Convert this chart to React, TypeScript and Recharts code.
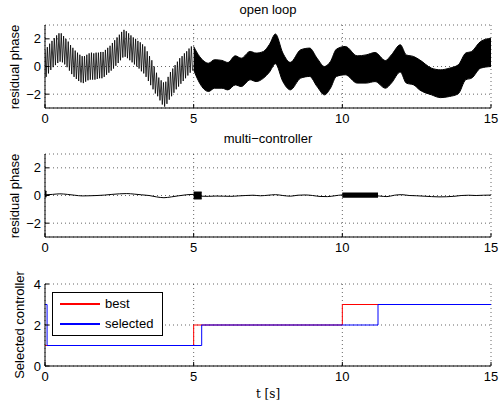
import React from 'react';
import { ComposedChart, Line, Area, XAxis, YAxis, CartesianGrid } from 'recharts';

// open loop, t < 5: one peak and one trough per cycle of the oscillation
const olCycle = 5 / 64;
const olPeaks = [
  1.2, 1.4, 1.65, 1.85, 2.05, 2.25, 2.4, 2.4, 2.2, 2.0,
  1.8, 1.55, 1.35, 1.15, 1.0, 0.85, 0.75, 0.75, 0.85, 0.95,
  1.0, 0.95, 1.0, 1.0, 1.05, 1.05, 1.2, 1.35, 1.5, 1.7,
  1.9, 2.1, 2.3, 2.5, 2.65, 2.55, 2.4, 2.25, 2.1, 2.0,
  1.85, 1.75, 1.6, 1.45, 1.1, 0.75, 0.45, 0.0, -0.45, -0.8,
  -1.0, -1.15, -1.1, -0.75, -0.4, -0.15, 0.1, 0.35, 0.6, 0.75,
  0.95, 1.1, 1.3, 1.45,
];
const olTroughs = [
  -0.75, -0.5, -0.25, -0.05, 0.1, 0.25, 0.35, 0.3, 0.15, -0.05,
  -0.3, -0.55, -0.75, -0.9, -1.05, -1.15, -1.2, -1.1, -1.0, -0.95,
  -0.95, -0.95, -0.9, -0.85, -0.85, -0.75, -0.6, -0.45, -0.3, -0.15,
  0.05, 0.25, 0.45, 0.65, 0.7, 0.6, 0.45, 0.3, 0.15, 0.0,
  -0.15, -0.35, -0.5, -0.75, -1.05, -1.35, -1.65, -1.95, -2.15, -2.45,
  -2.75, -2.9, -2.7, -2.4, -2.15, -1.9, -1.65, -1.45, -1.25, -1.05,
  -0.85, -0.65, -0.45, -0.3,
];

// open loop, t >= 5: too fast to resolve, so only its envelope
const olBandT = [
  5.0, 5.2, 5.5, 5.7, 5.95, 6.15, 6.4, 6.6, 6.9, 7.1,
  7.35, 7.55, 7.75, 8.0, 8.25, 8.6, 8.9, 9.15, 9.4, 9.6,
  9.8, 10.1, 10.5, 10.8, 11.1, 11.45, 11.65, 11.95, 12.15, 12.4,
  12.6, 13.0, 13.3, 13.6, 13.9, 14.15, 14.35, 14.65, 15.0,
];
const olBandHi = [
  1.45, 0.72, 0.24, 0.49, 0.44, 0.29, 0.77, 0.6, 1.09, 0.97,
  1.09, 1.6, 2.35, 0.97, 0.3, 1.21, 1.33, 0.6, 0.0, 0.36,
  1.25, 1.45, 0.77, 0.84, 1.01, 0.43, 0.84, 1.57, 0.84, 0.72,
  0.48, -0.12, -0.24, -0.12, 0.12, 0.97, 1.09, 1.81, 2.05,
];
const olBandLo = [
  -0.24, -1.2, -1.81, -1.57, -1.57, -1.69, -1.33, -1.45, -0.96, -1.09,
  -0.84, -0.4, 0.2, -1.09, -1.69, -0.84, -0.72, -1.45, -2.05, -1.57,
  -0.72, -0.6, -1.2, -1.2, -1.09, -1.57, -1.2, -0.4, -1.2, -1.33,
  -1.69, -2.05, -2.25, -2.17, -1.97, -0.96, -0.84, -0.12, 0.0,
];

// multi-controller residual phase
const mcT = [
  0, 0.25, 0.5, 0.75, 1.0, 1.25, 1.5, 1.75, 2.0, 2.25, 2.5, 2.75, 3.0, 3.25, 3.5, 3.75,
  4.0, 4.25, 4.5, 4.75, 5.0, 5.25, 5.5, 5.75, 6.0, 6.25, 6.5, 6.75, 7.0, 7.25, 7.5, 7.75,
  8.0, 8.25, 8.5, 8.75, 9.0, 9.25, 9.5, 9.75, 10.0, 10.25, 10.5, 10.75, 11.0, 11.25, 11.5,
  11.75, 12.0, 12.25, 12.5, 12.75, 13.0, 13.25, 13.5, 13.75, 14.0, 14.25, 14.5, 14.75, 15.0,
];
const mcV = [
  0.05, 0.08, 0.12, 0.08, 0.02, -0.03, -0.02, 0.0, 0.03, 0.08, 0.12, 0.14, 0.1, 0.05, 0.0, -0.1,
  -0.16, -0.1, -0.02, 0.05, 0.08, -0.05, -0.06, -0.04, -0.05, -0.06, -0.03, 0.0, 0.02, -0.02, 0.02, 0.06,
  0.0, -0.05, 0.02, 0.04, 0.0, -0.07, -0.08, -0.02, 0.04, -0.02, -0.04, -0.02, 0.0, -0.04, -0.08,
  0.02, 0.06, 0.0, -0.02, -0.05, -0.08, -0.1, -0.09, -0.06, 0.0, 0.02, 0.0, 0.02, 0.03,
];
// short fast bursts right after a switch
const burstStart = [0, 5.0, 10.0];
const burstEnd = [0.05, 5.27, 11.2];
const burstHi = [0.3, 0.25, 0.18];
const burstLo = [-0.1, -0.25, -0.12];

// selected controller
const bestT = [0, 5.0, 10.0, 15];
const bestV = [1, 2, 3, 3];
const selT = [0, 0.07, 5.27, 11.2, 15];
const selV = [3, 1, 2, 3, 3];
const seriesNames = ['best', 'selected'];
const seriesColors = ['#ff0000', '#0000ff'];

const xTicks = [0, 5, 10, 15];
const phaseTicks = [-2, 0, 2];
const ctrlTicks = [0, 2, 4];

const olRows = olPeaks.flatMap((p, i) => [
  { t: i * olCycle, v: p },
  { t: (i + 0.5) * olCycle, v: olTroughs[i] },
]);
const bandRows = olBandT.map((t, i) => ({ t, band: [olBandLo[i], olBandHi[i]] }));
const mcRows = mcT.map((t, i) => ({ t, v: mcV[i] }));
const bursts = burstStart.map((s, i) => [
  { t: s, band: [burstLo[i], burstHi[i]] },
  { t: burstEnd[i], band: [burstLo[i], burstHi[i]] },
]);
const bestRows = bestT.map((t, i) => ({ t, v: bestV[i] }));
const selRows = selT.map((t, i) => ({ t, v: selV[i] }));

const font = '"Liberation Sans", Arial, Helvetica, sans-serif';
const tickStyle = { fontSize: 13, fill: '#000', fontFamily: font };
const fmt = (v: number) => (v < 0 ? '\u2212' + Math.abs(v) : String(v));

// MATLAB-like box: inward ticks on all four sides, dotted grid
function frame(yDomain: number[], yTicks: number[], xHeight: number) {
  return [
    <CartesianGrid key="g" stroke="#000" strokeOpacity={0.6} strokeDasharray="1 3" />,
    <XAxis key="xb" type="number" dataKey="t" domain={[0, 15]} ticks={xTicks} interval={0}
      allowDataOverflow height={xHeight} stroke="#000" tickSize={-4} tickMargin={10} tick={tickStyle} />,
    <XAxis key="xt" xAxisId="top" orientation="top" type="number" dataKey="t" domain={[0, 15]}
      ticks={xTicks} interval={0} allowDataOverflow height={0} stroke="#000" tickSize={-4} tick={false} />,
    <YAxis key="yl" type="number" domain={yDomain} ticks={yTicks} interval={0} allowDataOverflow
      width={45} stroke="#000" tickSize={-4} tickMargin={8} tick={tickStyle} tickFormatter={fmt} />,
    <YAxis key="yr" yAxisId="right" orientation="right" type="number" domain={yDomain} ticks={yTicks}
      interval={0} allowDataOverflow width={0} stroke="#000" tickSize={-4} tick={false} />,
  ];
}

const abs = (left: number, top: number): React.CSSProperties => ({ position: 'absolute', left, top });

function YLabel({ text, cx, cy }: { text: string; cx: number; cy: number }) {
  return (
    <div style={{
      position: 'absolute', left: cx - 100, top: cy - 8, width: 200, height: 16, lineHeight: '16px',
      textAlign: 'center', transform: 'rotate(-90deg)', fontFamily: font, fontSize: 13, color: '#000',
    }}>{text}</div>
  );
}

function Title({ text, top }: { text: string; top: number }) {
  return (
    <div style={{
      position: 'absolute', left: 168, top, width: 200, lineHeight: '15px', textAlign: 'center',
      fontFamily: font, fontSize: 13, color: '#000',
    }}>{text}</div>
  );
}

function LegendBox() {
  return (
    <div style={{
      position: 'absolute', left: 52, top: 292, width: 109, height: 42, border: '1.5px solid #000',
      background: '#fff', boxSizing: 'content-box',
    }}>
      {seriesNames.map((name, i) => (
        <div key={name}>
          <div style={{ position: 'absolute', left: 7, top: 10 + i * 20, width: 40, height: 2, background: seriesColors[i] }} />
          <div style={{
            position: 'absolute', left: 52, top: 3 + i * 20, lineHeight: '15px', fontFamily: font,
            fontSize: 13, color: '#000', whiteSpace: 'nowrap',
          }}>{name}</div>
        </div>
      ))}
    </div>
  );
}

export default function App() {
  return (
    <div style={{ position: 'absolute', left: 0, top: 0, width: 500, height: 409, background: '#fff', overflow: 'hidden' }}>
      <Title text="open loop" top={2} />
      <YLabel text="residual phase" cx={15} cy={66.5} />
      <div style={abs(0, 0)}>
        <ComposedChart width={500} height={135} margin={{ top: 25, right: 9, bottom: 0, left: 0 }}>
          {frame([-3, 3], phaseTicks, 27)}
          <Line data={olRows} dataKey="v" type="linear" stroke="#000" strokeWidth={0.8} dot={false}
            isAnimationActive={false} />
          <Area data={bandRows} dataKey="band" type="monotone" stroke="#000" strokeWidth={1} fill="#000"
            fillOpacity={1} isAnimationActive={false} />
        </ComposedChart>
      </div>

      <Title text="multi−controller" top={130.5} />
      <YLabel text="residual phase" cx={15} cy={195.5} />
      <div style={abs(0, 130)}>
        <ComposedChart width={500} height={135} margin={{ top: 24, right: 9, bottom: 0, left: 0 }}>
          {frame([-3, 3], phaseTicks, 28)}
          <Line data={mcRows} dataKey="v" type="monotone" stroke="#000" strokeWidth={1} dot={false}
            isAnimationActive={false} />
          {bursts.map((rows, i) => (
            <Area key={i} data={rows} dataKey="band" type="linear" stroke="#000" strokeWidth={1} fill="#000"
              fillOpacity={1} isAnimationActive={false} />
          ))}
        </ComposedChart>
      </div>

      <YLabel text="Selected controller" cx={20} cy={325} />
      <div style={abs(0, 260)}>
        <ComposedChart width={500} height={135} margin={{ top: 24, right: 9, bottom: 0, left: 0 }}>
          {frame([0, 4], ctrlTicks, 29)}
          <Line data={bestRows} dataKey="v" name={seriesNames[0]} type="stepAfter" stroke={seriesColors[0]}
            strokeWidth={1} dot={false} isAnimationActive={false} />
          <Line data={selRows} dataKey="v" name={seriesNames[1]} type="stepAfter" stroke={seriesColors[1]}
            strokeWidth={1} dot={false} isAnimationActive={false} />
        </ComposedChart>
      </div>
      <LegendBox />
      <div style={{
        position: 'absolute', left: 218, top: 387, width: 100, lineHeight: '15px', textAlign: 'center',
        fontFamily: '"DejaVu Serif", "Liberation Serif", serif', fontSize: 12, color: '#000',
      }}>t [s]</div>
    </div>
  );
}
